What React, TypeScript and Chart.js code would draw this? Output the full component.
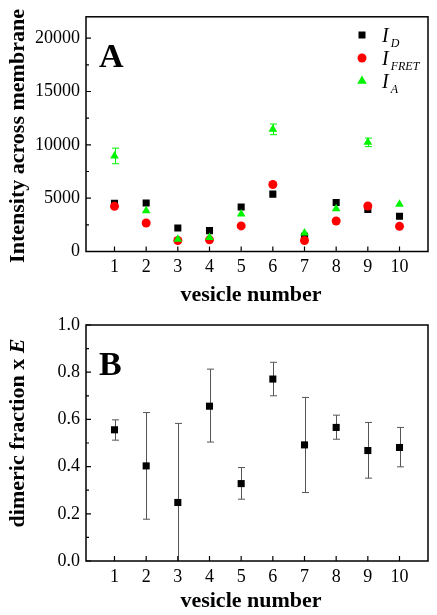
import React, { useEffect, useRef } from 'react';
import { Chart, registerables } from 'chart.js';

Chart.register(...registerables);

// ---------- data ----------
const vesicles = [1, 2, 3, 4, 5, 6, 7, 8, 9, 10];
const intensityD = [4510, 4540, 2210, 1960, 4170, 5380, 1430, 4600, 3950, 3300];
const intensityFRET = [4230, 2670, 1030, 1090, 2400, 6280, 1030, 2860, 4260, 2360];
const intensityA = [8960, 3830, 1150, 1310, 3510, 11450, 1740, 4010, 10230, 4420];
const intensityAErr = [730, 0, 0, 0, 0, 500, 0, 0, 400, 0];
const dimericE = [0.556, 0.403, 0.248, 0.656, 0.328, 0.771, 0.492, 0.566, 0.468, 0.481];
const dimericEHigh = [0.598, 0.629, 0.583, 0.813, 0.396, 0.842, 0.693, 0.618, 0.587, 0.566];
const dimericELow = [0.512, 0.177, 0.0, 0.504, 0.262, 0.7, 0.29, 0.516, 0.351, 0.399];
const intensityMajor = [0, 5000, 10000, 15000, 20000];
const intensityMinor = [2500, 7500, 12500, 17500];
const fractionMajor = [0, 0.2, 0.4, 0.6, 0.8, 1.0];
const fractionMinor = [0.1, 0.3, 0.5, 0.7, 0.9];

const SERIF = '"Liberation Serif", "Times New Roman", serif';
const GREEN = '#00f400';

type Frag = { text: string; italic?: boolean };

const errorBarPlugin = {
  id: 'errorBars',
  beforeDatasetsDraw(chart: any) {
    const { ctx, scales } = chart;
    chart.data.datasets.forEach((ds: any) => {
      if (!ds.errLow || !ds.errHigh) return;
      ctx.save();
      ctx.strokeStyle = ds.errColor || '#000';
      ctx.lineWidth = 1;
      ds.data.forEach((p: any, i: number) => {
        const lo = ds.errLow[i];
        const hi = ds.errHigh[i];
        if (lo === hi) return;
        const px = Math.round(scales.x.getPixelForValue(p.x)) + 0.5;
        const pl = scales.y.getPixelForValue(lo);
        const ph = scales.y.getPixelForValue(hi);
        ctx.beginPath();
        ctx.moveTo(px, pl);
        ctx.lineTo(px, ph);
        ctx.moveTo(px - 3.5, ph);
        ctx.lineTo(px + 3.5, ph);
        if (lo > scales.y.min) {
          ctx.moveTo(px - 3.5, pl);
          ctx.lineTo(px + 3.5, pl);
        }
        ctx.stroke();
      });
      ctx.restore();
    });
  },
};

const framePlugin = {
  id: 'frame',
  afterDraw(chart: any, _args: any, opts: any) {
    const { ctx, chartArea: a, scales } = chart;
    ctx.save();
    ctx.strokeStyle = '#000';
    ctx.lineWidth = 1.5;
    ctx.strokeRect(a.left, a.top, a.right - a.left, a.bottom - a.top);
    ctx.lineWidth = 1.2;
    ctx.beginPath();
    (opts.yMajor || []).forEach((v: number) => {
      const py = scales.y.getPixelForValue(v);
      ctx.moveTo(a.left, py);
      ctx.lineTo(a.left + 5, py);
    });
    (opts.yMinor || []).forEach((v: number) => {
      const py = scales.y.getPixelForValue(v);
      ctx.moveTo(a.left, py);
      ctx.lineTo(a.left + 3, py);
    });
    vesicles.forEach((v) => {
      const px = scales.x.getPixelForValue(v);
      ctx.moveTo(px, a.bottom);
      ctx.lineTo(px, a.bottom - 5);
    });
    ctx.stroke();

    // panel letter
    ctx.fillStyle = '#000';
    ctx.font = `bold 34px ${SERIF}`;
    ctx.textAlign = 'left';
    ctx.textBaseline = 'alphabetic';
    ctx.fillText(opts.letter, a.left + 13, a.top + 50);

    // x title
    ctx.font = `bold 22px ${SERIF}`;
    ctx.textAlign = 'center';
    ctx.fillText('vesicle number', opts.xTitleX, opts.xTitleY);

    // y title (rotated, with fragments)
    const frags: Frag[] = opts.yTitle;
    ctx.save();
    ctx.translate(opts.yTitleX, opts.yTitleY);
    ctx.rotate(-Math.PI / 2);
    ctx.textAlign = 'left';
    ctx.textBaseline = 'alphabetic';
    const fontFor = (f: Frag) => `${f.italic ? 'italic ' : ''}bold 22px ${SERIF}`;
    let total = 0;
    frags.forEach((f) => {
      ctx.font = fontFor(f);
      total += ctx.measureText(f.text).width;
    });
    let cx = -total / 2;
    frags.forEach((f) => {
      ctx.font = fontFor(f);
      ctx.fillText(f.text, cx, 0);
      cx += ctx.measureText(f.text).width;
    });
    ctx.restore();

    // legend
    if (opts.legend) {
      const lx = 362;
      opts.legend.forEach((item: any, i: number) => {
        const base = 42 + i * 23;
        const my = base - 7;
        ctx.fillStyle = item.color;
        ctx.beginPath();
        if (item.shape === 'rect') {
          ctx.rect(lx - 3.5, my - 3.5, 7, 7);
        } else if (item.shape === 'circle') {
          ctx.arc(lx, my, 4.5, 0, Math.PI * 2);
        } else {
          const r = 5.5;
          ctx.moveTo(lx, my - r);
          ctx.lineTo(lx + r * 0.866, my + r * 0.5);
          ctx.lineTo(lx - r * 0.866, my + r * 0.5);
          ctx.closePath();
        }
        ctx.fill();
        ctx.fillStyle = '#000';
        ctx.textAlign = 'left';
        ctx.font = `italic 20px ${SERIF}`;
        ctx.fillText('I', 382, base);
        const w = ctx.measureText('I').width;
        ctx.font = `italic 12px ${SERIF}`;
        ctx.fillText(item.sub, 382 + w + 2, base + 5);
      });
    }
    ctx.restore();
  },
};

function makeOptions(yMin: number, yMax: number, yTicks: number[], fmt: (v: number) => string, pad: any, xHeight: number, frameOpts: any) {
  return {
    animation: false,
    responsive: false,
    maintainAspectRatio: false,
    layout: { padding: pad },
    plugins: {
      legend: { display: false },
      tooltip: { enabled: false },
      frame: frameOpts,
    },
    scales: {
      x: {
        type: 'linear',
        min: 0.1,
        max: 10.9,
        grid: { display: false, drawTicks: false },
        border: { display: false },
        afterBuildTicks: (s: any) => {
          s.ticks = vesicles.map((v) => ({ value: v }));
        },
        afterFit: (s: any) => {
          s.height = xHeight;
        },
        ticks: {
          color: '#000',
          font: { family: SERIF, size: 18 },
          padding: 5,
          maxRotation: 0,
          autoSkip: false,
          callback: (v: number) => String(v),
        },
      },
      y: {
        type: 'linear',
        min: yMin,
        max: yMax,
        grid: { display: false, drawTicks: false },
        border: { display: false },
        afterBuildTicks: (s: any) => {
          s.ticks = yTicks.map((v) => ({ value: v }));
        },
        afterFit: (s: any) => {
          s.width = 86;
        },
        ticks: {
          color: '#000',
          font: { family: SERIF, size: 18 },
          padding: 6,
          autoSkip: false,
          callback: (v: number) => fmt(v),
        },
      },
    },
  };
}

const toPoints = (ys: number[]) => vesicles.map((v, i) => ({ x: v, y: ys[i] }));

export default function App() {
  const refA = useRef<HTMLCanvasElement>(null);
  const refB = useRef<HTMLCanvasElement>(null);

  useEffect(() => {
    const chartA = new Chart(refA.current as HTMLCanvasElement, {
      type: 'scatter',
      data: {
        datasets: [
          {
            label: 'I_D',
            data: toPoints(intensityD),
            pointStyle: 'rect',
            pointRadius: 5,
            backgroundColor: '#000',
            borderColor: '#000',
            borderWidth: 0,
            order: 2,
          },
          {
            label: 'I_FRET',
            data: toPoints(intensityFRET),
            pointStyle: 'circle',
            pointRadius: 4.5,
            backgroundColor: '#ff0000',
            borderColor: '#ff0000',
            borderWidth: 0,
            order: 1,
          },
          {
            label: 'I_A',
            data: toPoints(intensityA),
            pointStyle: 'triangle',
            pointRadius: 5,
            backgroundColor: GREEN,
            borderColor: GREEN,
            borderWidth: 0,
            order: 0,
            errLow: intensityA.map((v, i) => v - intensityAErr[i]),
            errHigh: intensityA.map((v, i) => v + intensityAErr[i]),
            errColor: GREEN,
          } as any,
        ],
      },
      options: makeOptions(0, 22000, intensityMajor, (v) => String(v), { top: 15, right: 9, left: 0, bottom: 0 }, 305 - 251.5, {
        letter: 'A',
        yMajor: intensityMajor,
        yMinor: intensityMinor,
        xTitleX: 251,
        xTitleY: 301,
        yTitleX: 24,
        yTitleY: 136,
        yTitle: [{ text: 'Intensity across membrane' }],
        legend: [
          { shape: 'rect', color: '#000', sub: 'D' },
          { shape: 'circle', color: '#ff0000', sub: 'FRET' },
          { shape: 'triangle', color: GREEN, sub: 'A' },
        ],
      }) as any,
      plugins: [errorBarPlugin, framePlugin],
    });

    const chartB = new Chart(refB.current as HTMLCanvasElement, {
      type: 'scatter',
      data: {
        datasets: [
          {
            label: 'dimeric fraction x E',
            data: toPoints(dimericE),
            pointStyle: 'rect',
            pointRadius: 5,
            backgroundColor: '#000',
            borderColor: '#000',
            borderWidth: 0,
            errLow: dimericELow,
            errHigh: dimericEHigh,
            errColor: '#555',
          } as any,
        ],
      },
      options: makeOptions(0, 1.0, fractionMajor, (v) => v.toFixed(1), { top: 20, right: 9, left: 0, bottom: 0 }, 310 - 256, {
        letter: 'B',
        yMajor: fractionMajor,
        yMinor: fractionMinor,
        xTitleX: 251,
        xTitleY: 302,
        yTitleX: 24,
        yTitleY: 128,
        yTitle: [{ text: 'dimeric fraction x ' }, { text: 'E', italic: true }],
      }) as any,
      plugins: [errorBarPlugin, framePlugin],
    });

    return () => {
      chartA.destroy();
      chartB.destroy();
    };
  }, []);

  return (
    <div style={{ position: 'absolute', left: 0, top: 0, width: 437, height: 615, background: '#fff' }}>
      <canvas ref={refA} width={437} height={305} style={{ position: 'absolute', left: 0, top: 0, width: 437, height: 305 }} />
      <canvas ref={refB} width={437} height={310} style={{ position: 'absolute', left: 0, top: 305, width: 437, height: 310 }} />
    </div>
  );
}
